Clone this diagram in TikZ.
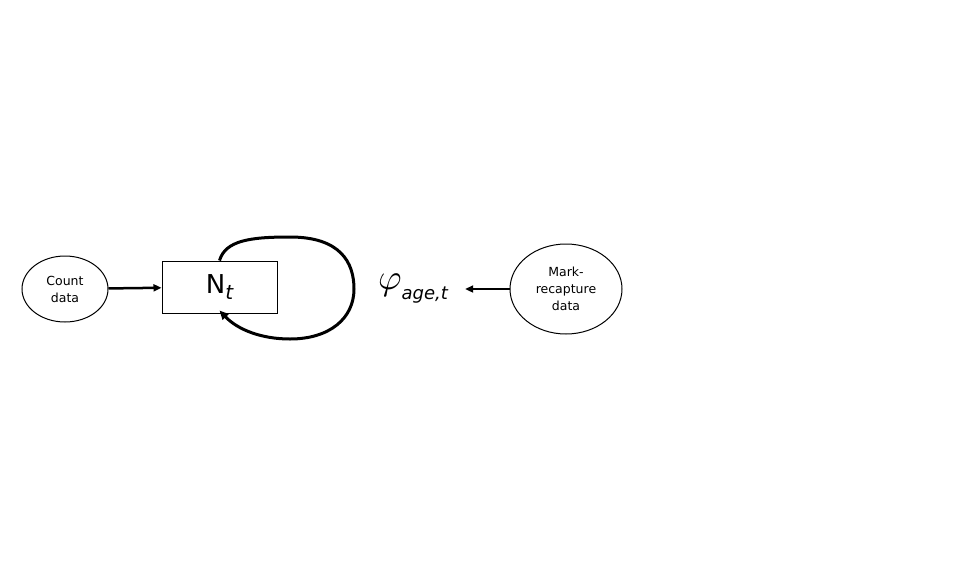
\documentclass[tikz,border=0pt]{standalone}
\usepackage{graphicx}
\usepackage{fontspec}
\setmainfont{DejaVu Sans}
\usetikzlibrary{shapes.geometric,arrows.meta}

\begin{document}
\begin{tikzpicture}[x=1pt,y=-1pt]
	\useasboundingbox (0,0) rectangle (960,576);
	\node[draw,line width=1pt,ellipse,minimum width=86pt,minimum height=66pt,inner sep=0pt,align=center,font=\fontsize{12.5}{17}\selectfont](count) at (65,289){Count\\data};
	\node[draw,line width=1pt,rectangle,minimum width=115pt,minimum height=52pt,inner sep=0pt,font=\fontsize{26}{26}\selectfont](Nt) at (219.5,287){N\raisebox{-6pt}{\fontsize{20}{20}\selectfont\itshape t}};
	\node[inner sep=0pt,minimum width=104pt,minimum height=30pt](phi) at (413,289){\raisebox{4pt}{\scalebox{3.6}{$\varphi$}}\raisebox{-6pt}{\fontsize{18}{18}\selectfont\itshape age,t}};
	\node[draw,line width=1pt,ellipse,minimum width=112pt,minimum height=90pt,inner sep=0pt,align=center,font=\fontsize{12.5}{17}\selectfont](mark) at (566,289){Mark-\\recapture\\data};
	\path[-{Triangle[length=8pt,width=7pt]},line width=2.5pt]
		(count) edge node {}(Nt)
		(mark) edge node {}(phi);
	\draw[-{Triangle[length=9pt,width=8pt]},line width=3pt]
		(Nt.north) .. controls +(6,-20) and (250,237) .. (290,237)
		.. controls (340,237) and (354,262) .. (354,289)
		.. controls (354,318) and (330,339) .. (290,339)
		.. controls (262,339) and (238,330) .. ([yshift=3pt]Nt.south);
\end{tikzpicture}
\end{document}
